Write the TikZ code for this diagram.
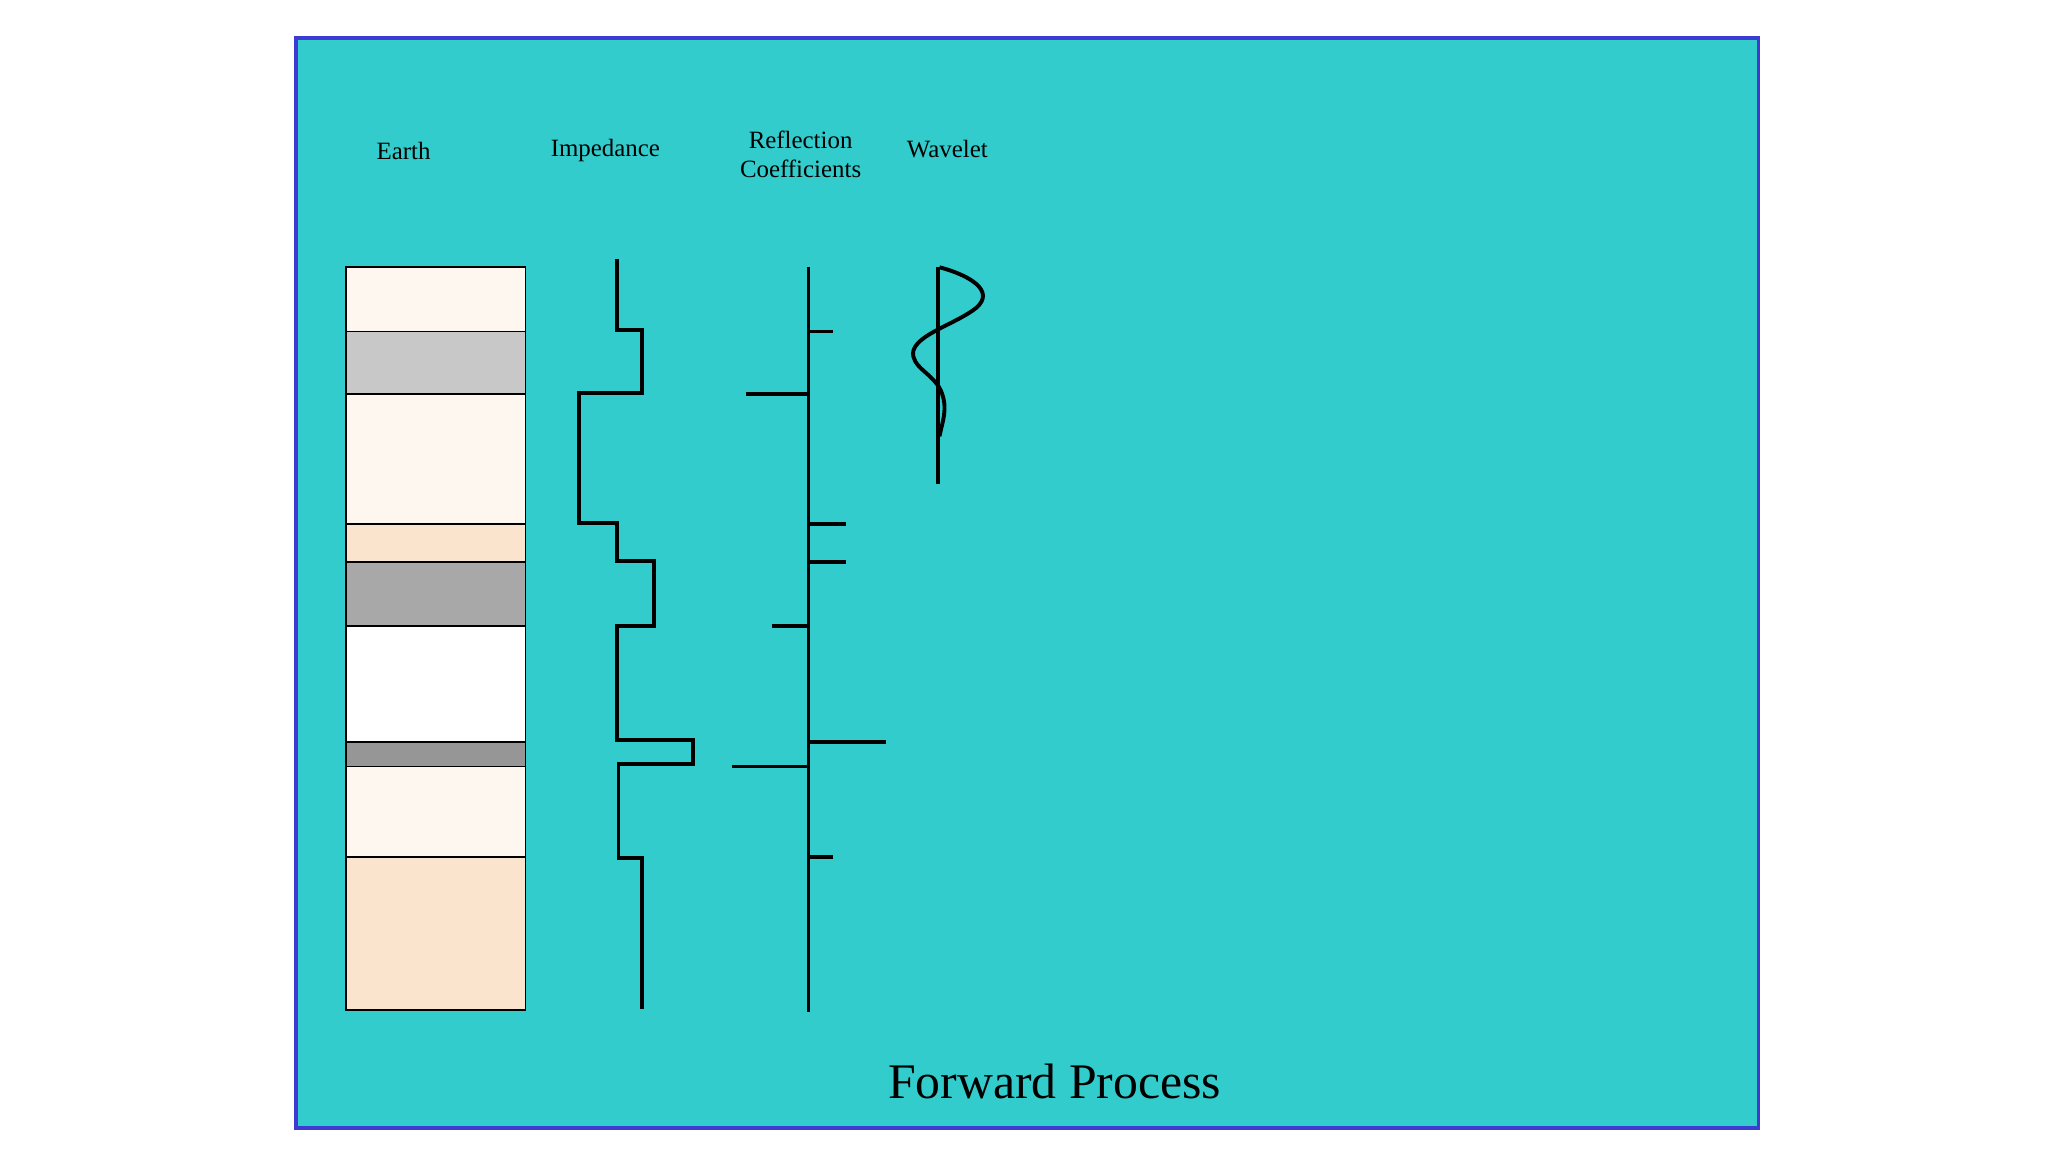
\documentclass[tikz,border=0pt]{standalone}
\usepackage{fontspec}
\setmainfont{Liberation Serif}
\begin{document}
\begin{tikzpicture}[x=0.01cm,y=-0.01cm,
  lbl/.style={font=\fontsize{5.4pt}{6.4pt}\selectfont,align=center},
  trace/.style={line width=0.85pt,line join=miter},
  layer/.style={draw=black,line width=0.4pt}]
\useasboundingbox (0,0) rectangle (1563,879);
\fill[white] (0,0) rectangle (1563,879);
\draw[fill={rgb,255:red,51;green,204;blue,204},draw={rgb,255:red,60;green,60;blue,210},line width=0.8pt] (226,29) rectangle (1342,861);
% earth layers
\definecolor{cream}{RGB}{253,247,240}
\definecolor{peach}{RGB}{251,228,206}
\definecolor{gA}{RGB}{200,200,200}
\definecolor{gB}{RGB}{168,168,168}
\definecolor{gC}{RGB}{150,150,150}
\draw[layer,fill=cream] (264,204) rectangle (401,253);
\draw[layer,fill=gA] (264,253) rectangle (401,301);
\draw[layer,fill=cream] (264,301) rectangle (401,400);
\draw[layer,fill=peach] (264,400) rectangle (401,429);
\draw[layer,fill=gB] (264,429) rectangle (401,478);
\draw[layer,fill=white!97!cream] (264,478) rectangle (401,566);
\draw[layer,fill=gC] (264,566) rectangle (401,585);
\draw[layer,fill=cream] (264,585) rectangle (401,654);
\draw[layer,fill=peach] (264,654) rectangle (401,771);
% impedance
\draw[trace] (471,198)--(471,252)--(490,252)--(490,300)--(442,300)--(442,399)--(471,399)--(471,428)--(499,428)--(499,478)--(471,478)--(471,565)--(529,565)--(529,583)--(472,583)--(472,655)--(490,655)--(490,770);
% reflection coefficients
\draw[trace] (617,204)--(617,772);
\foreach \y/\x in {253/636,301/569,400/646,429/646,478/589,566/676,585/559,654/636}
  \draw[trace] (617,\y)--(\x,\y);
% wavelet
\draw[trace] (716,204)--(716,369);
\draw[trace] (717,204) .. controls (740,210) and (760,222) .. (745,235)
  .. controls (730,247) and (700,255) .. (697,268)
  .. controls (695,280) and (712,285) .. (718,298)
  .. controls (724,312) and (719,322) .. (717,333);
% labels
\node[lbl] (t1) at (308,115) {Earth};
\node[lbl] (t2) at (462,115) {Impedance};
\node[lbl] (t3) at (611,118) {Reflection\\Coefficients};
\node[lbl] (t4) at (723,114) {Wavelet};
\node[font=\fontsize{10.8pt}{12pt}\selectfont] (t5) at (805,825) {Forward Process};
\end{tikzpicture}
\end{document}
